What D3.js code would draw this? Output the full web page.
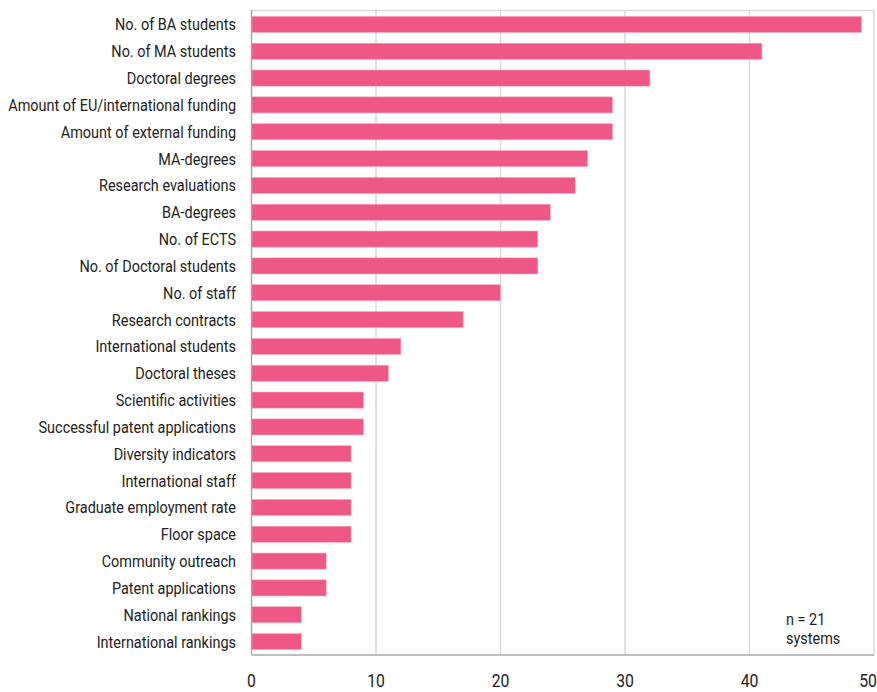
<!DOCTYPE html>
<html><head><meta charset="utf-8">
<script src="https://cdn.jsdelivr.net/npm/d3@7"></script>
<style>
body{margin:0;background:#fff;}
text{font-family:"Roboto","DejaVu Sans Condensed",sans-serif;fill:#222;}
</style></head><body>
<svg id="c" width="877" height="692"></svg>
<script>
const categories = ["No. of BA students","No. of MA students","Doctoral degrees","Amount of EU/international funding","Amount of external funding","MA-degrees","Research evaluations","BA-degrees","No. of ECTS","No. of Doctoral students","No. of staff","Research contracts","International students","Doctoral theses","Scientific activities","Successful patent applications","Diversity indicators","International staff","Graduate employment rate","Floor space","Community outreach","Patent applications","National rankings","International rankings"];
const values = [49,41,32,29,29,27,26,24,23,23,20,17,12,11,9,9,8,8,8,8,6,6,4,4];
const tickValues = [0,10,20,30,40,50];
const noteLines = ["n = 21","systems"];

const svg = d3.select("#c");
const L = 251.5, R = 874, T = 11, B = 655;
const x = d3.scaleLinear().domain([0,50]).range([L,R]);
const y = d3.scaleBand().domain(categories).range([T,B]).paddingInner(0.4).paddingOuter(0.2);

svg.append("line").attr("x1",L).attr("x2",R).attr("y1",T-0.5).attr("y2",T-0.5).attr("stroke","#d9d9d9").attr("stroke-width",1.5);
svg.append("g").selectAll("line").data(tickValues.slice(1)).join("line")
  .attr("x1",d=>x(d)).attr("x2",d=>x(d)).attr("y1",T-1).attr("y2",B)
  .attr("stroke","#d9d9d9").attr("stroke-width",1.5);

svg.append("g").selectAll("rect").data(categories).join("rect")
  .attr("x",x(0)).attr("y",d=>y(d)).attr("height",y.bandwidth())
  .attr("width",(d,i)=>x(values[i])-x(0))
  .attr("fill","#ef5785").attr("stroke","#f8a9c0").attr("stroke-width",0.6);

svg.append("line").attr("x1",L).attr("x2",L).attr("y1",T-1).attr("y2",B).attr("stroke","#a8a8a8").attr("stroke-width",1.5);
svg.append("line").attr("x1",L).attr("x2",R).attr("y1",B).attr("y2",B).attr("stroke","#a8a8a8").attr("stroke-width",1.5);

// condensed look: measure longest label and squeeze horizontally
const fs = 16.5;
const probe = svg.append("text").style("font-size",fs+"px").text(categories[3]);
const sx = 228 / probe.node().getComputedTextLength();
probe.remove();

svg.append("g").selectAll("text").data(categories).join("text")
  .attr("transform",d=>`translate(236,${y(d)+y.bandwidth()/2}) scale(${sx},1)`)
  .attr("dy","0.36em").attr("text-anchor","end").style("font-size",fs+"px").text(d=>d);

svg.append("g").selectAll("text").data(tickValues).join("text")
  .attr("transform",d=>`translate(${d===50?x(d)-6:x(d)},687) scale(${sx},1)`)
  .attr("text-anchor","middle").style("font-size","18px").text(d=>d);

svg.append("g").selectAll("text").data(noteLines).join("text")
  .attr("transform",(d,i)=>`translate(786,${625+i*19}) scale(${sx},1)`)
  .style("font-size",fs+"px").text(d=>d);
</script>
</body></html>
